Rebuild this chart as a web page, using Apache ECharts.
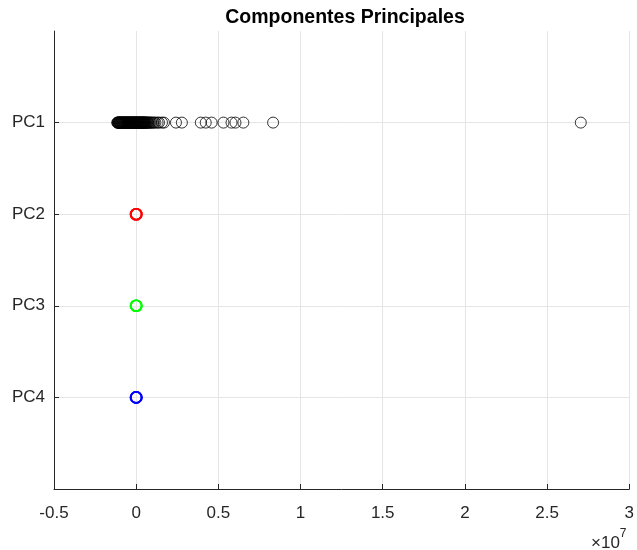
<!DOCTYPE html>
<html><head><meta charset="utf-8">
<script src="https://cdn.jsdelivr.net/npm/echarts@6/dist/echarts.min.js"></script>
<style>html,body{margin:0;padding:0;background:#fff}#c{width:637px;height:550px}</style>
</head><body><div id="c"></div>
<script>
var categories = ['PC1', 'PC2', 'PC3', 'PC4'];
var xTicks = ['-0.5', '0', '0.5', '1', '1.5', '2', '2.5', '3'];
// values (raw, axis shown in units of 1e7)
var pc1 = [-1150000, -1130000, -1110000, -1090000, -1070000, -1050000, -1030000, -1010000, -990000, -970000,
  -950000, -930000, -910000, -890000, -870000, -850000, -830000, -810000, -790000, -770000,
  -750000, -730000, -710000, -690000, -670000, -650000, -630000, -610000, -590000, -570000,
  -550000, -530000, -510000, -490000, -470000, -450000, -430000, -410000, -390000, -370000,
  -350000, -330000, -310000, -290000, -270000, -250000, -230000, -210000, -190000, -170000,
  -150000, -130000, -110000, -90000, -70000, -50000, -30000, -10000, 10000, 30000,
  50000, 70000, 90000, 110000, 130000, 150000, 170000, 190000, 210000, 230000,
  250000, 270000, 290000, 310000, 330000, 350000, 370000, 390000, 410000, 430000,
  450000, 470000, 490000, 510000, 530000, 560000, 590000, 620000, 650000, 690000,
  730000, 770000, 820000, 870000, 930000, 1000000, 1080000, 1170000, 1300000, 1390000, 1570000, 1690000,
  2420000, 2780000, 3930000, 4230000, 4590000, 5310000, 5800000, 6040000, 6520000, 8330000, 27050000];
var pc2 = [-20000, -8000, 0, 8000, 20000];
var pc3 = [-20000, -6000, 0, 6000, 20000];
var pc4 = [-20000, -8000, 0, 8000, 20000];

function pts(arr, row) { return arr.map(function (v) { return [v / 1e7, row]; }); }
var colors = ['#000000', '#ff0000', '#00ff00', '#0000ff'];
var widths = [1, 1.6, 1.6, 1.6];
var seriesData = [pc1, pc2, pc3, pc4];

var chart = echarts.init(document.getElementById('c'), null, {renderer: 'canvas'});
var font = 'Liberation Sans, Arial, Helvetica, sans-serif';
chart.setOption({
  animation: false,
  title: {
    text: 'Componentes Principales', left: 345, top: 3, textAlign: 'center',
    textStyle: {fontFamily: font, fontSize: 19.5, fontWeight: 'bold', color: '#000'}
  },
  grid: {left: 54, right: 3, top: 31, bottom: 61, containLabel: false},
  xAxis: {
    type: 'value', min: -0.5, max: 3, interval: 0.5,
    axisLine: {show: true, onZero: false, lineStyle: {color: '#262626', width: 1}},
    axisTick: {show: true, inside: true, length: 5, lineStyle: {color: '#262626'}},
    axisLabel: {
      fontFamily: font, fontSize: 17, color: '#262626', margin: 16,
      formatter: function (v) { var i = Math.round((v + 0.5) / 0.5); return xTicks[i] !== undefined ? xTicks[i] : ''; }
    },
    splitLine: {show: true, lineStyle: {color: '#e5e5e5', width: 1}}
  },
  yAxis: {
    type: 'value', min: 0, max: 5, interval: 1, inverse: true,
    axisLine: {show: true, onZero: false, lineStyle: {color: '#262626', width: 1}},
    axisTick: {show: true, inside: true, length: 5, customValues: [1, 2, 3, 4], lineStyle: {color: '#262626'}},
    axisLabel: {
      fontFamily: font, fontSize: 17, color: '#262626', margin: 9,
      formatter: function (v) { return (v >= 1 && v <= 4) ? categories[v - 1] : ''; }
    },
    splitLine: {show: true, lineStyle: {color: '#e5e5e5', width: 1}}
  },
  graphic: [{
    type: 'text', left: 591, top: 528,
    style: {
      text: '{a|×10}{b|7}',
      rich: {
        a: {fontFamily: font, fontSize: 17, fill: '#262626', verticalAlign: 'bottom'},
        b: {fontFamily: font, fontSize: 12, fill: '#262626', verticalAlign: 'top', padding: [0, 0, 12, 0]}
      }
    }
  }],
  series: seriesData.map(function (arr, i) {
    return {
      type: 'scatter', data: pts(arr, i + 1), symbol: 'circle', symbolSize: 11,
      itemStyle: {color: 'transparent', borderColor: colors[i], borderWidth: widths[i]},
      silent: true
    };
  })
});
chart.setOption({title: {left: 340}});
</script></body></html>
